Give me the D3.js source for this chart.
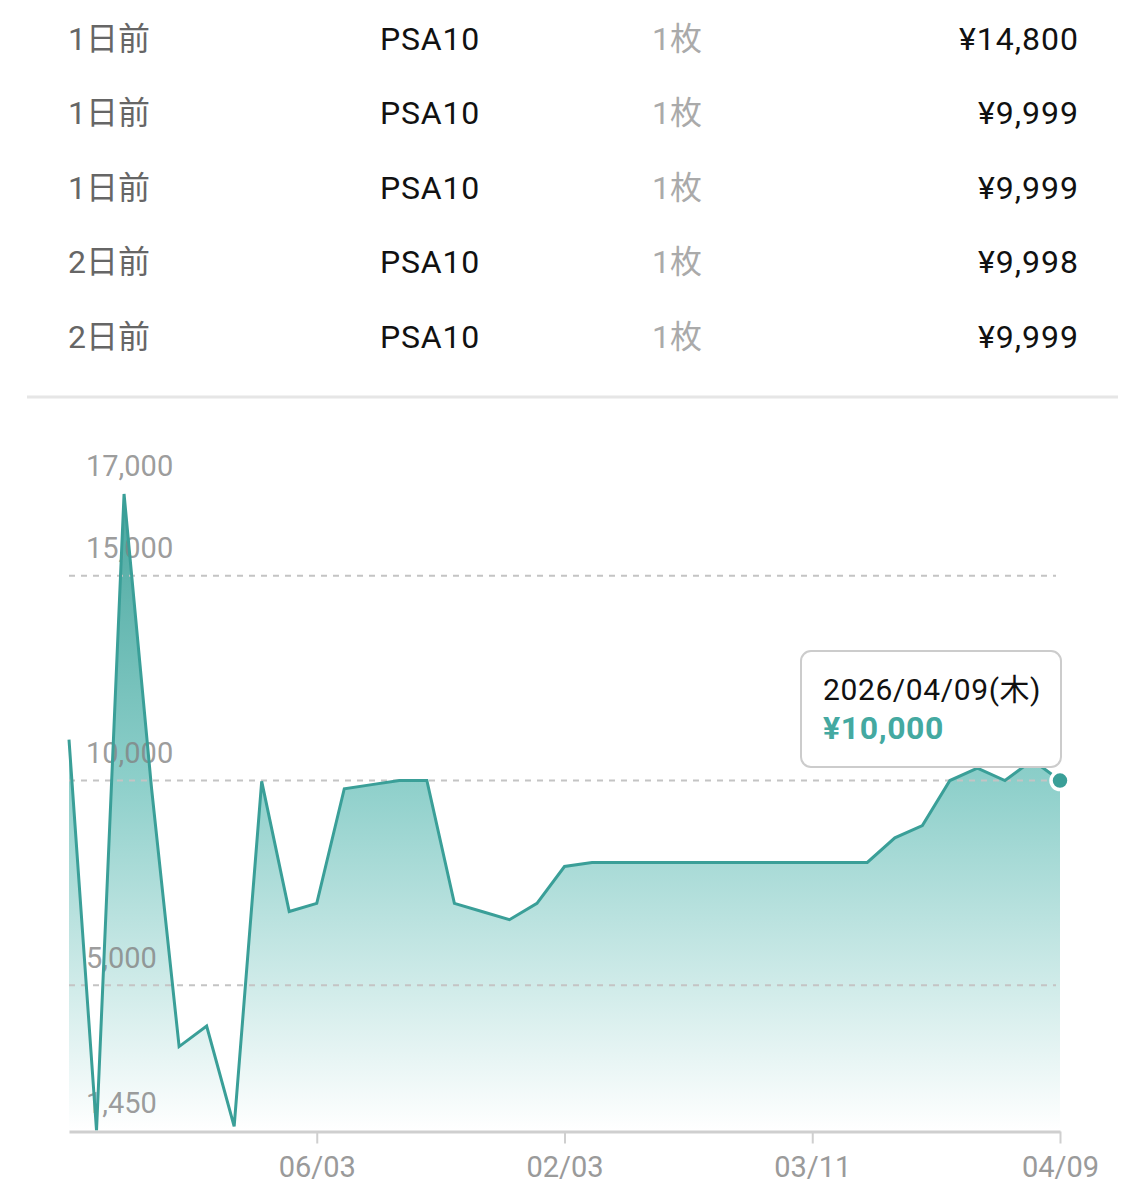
<!DOCTYPE html>
<html>
<head>
<meta charset="utf-8">
<script src="https://cdn.jsdelivr.net/npm/d3@7"></script>
<style>
html,body{margin:0;padding:0;background:#fff;}
svg{display:block;}
</style>
</head>
<body>
<svg id="chart" width="1146" height="1200"></svg>
<script>
// ---- data ----
const tableAges = ["1日前","1日前","1日前","2日前","2日前"];
const tableGrades = ["PSA10","PSA10","PSA10","PSA10","PSA10"];
const tableQty = ["1枚","1枚","1枚","1枚","1枚"];
const tablePrices = ["¥14,800","¥9,999","¥9,999","¥9,998","¥9,999"];

const prices = [11000,1450,17000,9800,3500,4000,1550,9980,6800,7000,
                9800,9900,10000,10000,7000,6800,6600,7000,7900,8000,
                8000,8000,8000,8000,8000,8000,8000,8000,8000,8000,
                8600,8900,10000,10300,10000,10500,10000];
const tickIndex = [9,18,27,36];
const tickLabels = ["06/03","02/03","03/11","04/09"];
const yTickValues = [1450,5000,10000,15000,17000];
const gridValues = [5000,10000,15000];
const tooltipDate = "2026/04/09(木)";

// ---- layout ----
const svg = d3.select("#chart");
const fontLatin = "Roboto, 'Noto Sans CJK JP', sans-serif";

// table
const rowY = d3.scalePoint().domain(d3.range(tableAges.length)).range([38, 336]);
const tbl = svg.append("g").attr("font-family", fontLatin).attr("font-size", 32);
tableAges.forEach((t, i) => {
  const yy = rowY(i);
  tbl.append("text").attr("x", 68).attr("y", yy).attr("dy", "0.36em").attr("fill", "#666").text(t);
  tbl.append("text").attr("x", 380).attr("y", yy).attr("dy", "0.36em").attr("fill", "#111").attr("letter-spacing", 0.8).text(tableGrades[i]);
  tbl.append("text").attr("x", 652).attr("y", yy).attr("dy", "0.36em").attr("fill", "#aaa").text(tableQty[i]);
  tbl.append("text").attr("x", 1079).attr("y", yy).attr("dy", "0.36em").attr("text-anchor", "end").attr("fill", "#111").attr("letter-spacing", 1).text(tablePrices[i]);
});
svg.append("line").attr("x1", 27).attr("x2", 1118).attr("y1", 397).attr("y2", 397)
  .attr("stroke", "#e6e6e6").attr("stroke-width", 3);

// chart scales
const x = d3.scalePoint().domain(d3.range(prices.length)).range([69, 1060]);
const y = d3.scaleLinear().domain([d3.min(prices), d3.max(prices)]).range([1130.5, 494]);

// gradient
const defs = svg.append("defs");
const grad = defs.append("linearGradient").attr("id", "areaGrad")
  .attr("gradientUnits", "userSpaceOnUse")
  .attr("x1", 0).attr("x2", 0).attr("y1", y(d3.max(prices))).attr("y2", y(d3.min(prices)));
grad.append("stop").attr("offset", 0).attr("stop-color", "#4aa79f");
grad.append("stop").attr("offset", 0.45).attr("stop-color", "#8dcfca");
grad.append("stop").attr("offset", 1).attr("stop-color", "#ffffff");

// area
const area = d3.area().x((d, i) => x(i)).y0(y(d3.min(prices))).y1(d => y(d));
const line = d3.line().x((d, i) => x(i)).y(d => y(d));
svg.append("path").datum(prices).attr("d", area).attr("fill", "url(#areaGrad)");

// grid (over the fill)
svg.append("g").selectAll("line").data(gridValues).join("line")
  .attr("x1", 69).attr("x2", 1056)
  .attr("y1", d => y(d)).attr("y2", d => y(d))
  .attr("stroke", "#c4c4c4").attr("stroke-width", 2).attr("stroke-dasharray", "6,6");

// y labels
svg.append("g").attr("font-family", fontLatin).attr("font-size", 29).attr("fill", "rgba(130,130,130,0.8)")
  .selectAll("text").data(yTickValues).join("text")
  .attr("x", 86).attr("y", d => y(d) - 28).attr("dy", "0.36em")
  .text(d => d3.format(",")(d));

// line
svg.append("path").datum(prices).attr("d", line).attr("fill", "none")
  .attr("stroke", "#3a9f98").attr("stroke-width", 3).attr("stroke-linejoin", "miter");

// x axis
const xAxis = d3.axisBottom(x).tickValues(tickIndex)
  .tickFormat(d => tickLabels[tickIndex.indexOf(d)]).tickSize(12).tickSizeOuter(0).tickPadding(13);
const gx = svg.append("g").attr("transform", `translate(0,${y(d3.min(prices)) + 1})`).call(xAxis);
gx.select(".domain").attr("stroke", "#cfcfcf").attr("stroke-width", 3);
gx.selectAll(".tick line").attr("stroke", "#cfcfcf").attr("stroke-width", 2);
gx.selectAll(".tick text").attr("font-family", fontLatin).attr("font-size", 29).attr("fill", "#9a9a9a");

// endpoint marker
const last = prices.length - 1;
svg.append("circle").attr("cx", x(last)).attr("cy", y(prices[last])).attr("r", 9)
  .attr("fill", "#3a9f98").attr("stroke", "#fff").attr("stroke-width", 3.5);

// tooltip
const tip = svg.append("g");
tip.append("rect").attr("x", 801).attr("y", 651).attr("width", 260).attr("height", 116)
  .attr("rx", 10).attr("fill", "#fff").attr("stroke", "#cccccc").attr("stroke-width", 2);
tip.append("text").attr("x", 823).attr("y", 689).attr("dy", "0.36em")
  .attr("font-family", fontLatin).attr("font-size", 30).attr("letter-spacing", 0.6).attr("fill", "#111").text(tooltipDate);
tip.append("text").attr("x", 823).attr("y", 727).attr("dy", "0.36em")
  .attr("font-family", fontLatin).attr("font-size", 32).attr("font-weight", "bold").attr("letter-spacing", 0.6).attr("fill", "#44a9a1")
  .text("¥" + d3.format(",")(prices[last]));
</script>
</body>
</html>
